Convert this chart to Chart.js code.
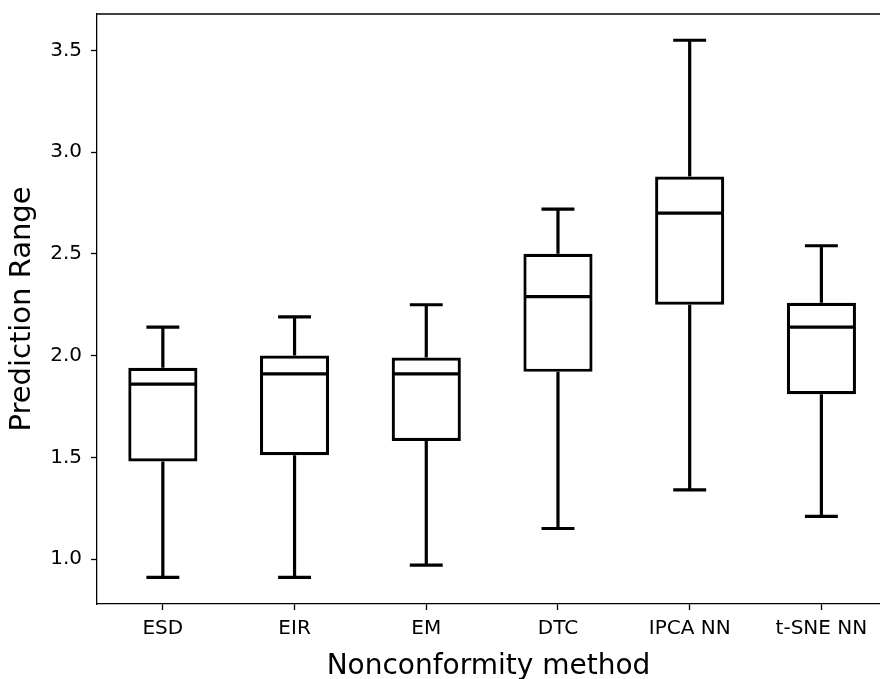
<!DOCTYPE html>
<html lang="en">
<head>
  <meta charset="UTF-8" />
  <title>Prediction Range by Nonconformity method</title>
  <script src="https://cdn.jsdelivr.net/npm/chart.js@4"></script>
  <style>
    body {
      margin: 0;
      background: #fff;
    }
    #wrap {
      width: 880px;
      height: 679px;
      position: relative;
    }
  </style>
</head>
<body>
  <div id="wrap"><canvas id="chart"></canvas></div>

  <script>
    // box plot data
    const categories = ['ESD', 'EIR', 'EM', 'DTC', 'IPCA NN', 't-SNE NN'];
    const whiskerLow = [0.91, 0.91, 0.97, 1.15, 1.34, 1.21];
    const q1 = [1.48, 1.51, 1.58, 1.92, 2.25, 1.81];
    const median = [1.86, 1.91, 1.91, 2.29, 2.70, 2.14];
    const q3 = [1.94, 2.00, 1.99, 2.50, 2.88, 2.26];
    const whiskerHigh = [2.14, 2.19, 2.25, 2.72, 3.55, 2.54];
    const yTicks = [1.0, 1.5, 2.0, 2.5, 3.0, 3.5];

    const FONT = 'DejaVu Sans';
    const LW = 3.2;

    // whiskers, caps, medians and the top spine
    const boxPlugin = {
      id: 'boxExtras',
      afterDatasetsDraw(chart) {
        const { ctx, chartArea } = chart;
        const x = chart.scales.x;
        const y = chart.scales.y;
        const boxHalf = x.getPixelForValue(1.25) - x.getPixelForValue(1);
        const capHalf = x.getPixelForValue(1.125) - x.getPixelForValue(1);

        ctx.save();
        ctx.beginPath();
        ctx.rect(chartArea.left, chartArea.top, chartArea.right - chartArea.left, chartArea.bottom - chartArea.top);
        ctx.clip();
        ctx.strokeStyle = '#000';
        ctx.lineWidth = LW;
        ctx.lineCap = 'butt';

        categories.forEach((c, i) => {
          const px = x.getPixelForValue(i + 1);
          const yLo = y.getPixelForValue(whiskerLow[i]);
          const yQ1 = y.getPixelForValue(q1[i]);
          const yMed = y.getPixelForValue(median[i]);
          const yQ3 = y.getPixelForValue(q3[i]);
          const yHi = y.getPixelForValue(whiskerHigh[i]);

          ctx.beginPath();
          // whiskers
          ctx.moveTo(px, yLo); ctx.lineTo(px, yQ1);
          ctx.moveTo(px, yQ3); ctx.lineTo(px, yHi);
          // caps
          ctx.moveTo(px - capHalf, yLo); ctx.lineTo(px + capHalf, yLo);
          ctx.moveTo(px - capHalf, yHi); ctx.lineTo(px + capHalf, yHi);
          // median
          ctx.moveTo(px - boxHalf, yMed); ctx.lineTo(px + boxHalf, yMed);
          ctx.stroke();
        });
        ctx.restore();

        // top spine
        ctx.save();
        ctx.strokeStyle = '#000';
        ctx.lineWidth = 1.3;
        ctx.beginPath();
        ctx.moveTo(chartArea.left - 0.65, chartArea.top);
        ctx.lineTo(chartArea.right, chartArea.top);
        ctx.stroke();
        ctx.restore();
      }
    };

    new Chart(document.getElementById('chart'), {
      type: 'bar',
      data: {
        datasets: [{
          data: categories.map((c, i) => ({ x: i + 1, y: [q1[i], q3[i]] })),
          backgroundColor: '#fff',
          borderColor: '#000',
          borderWidth: LW,
          borderSkipped: false,
          barPercentage: 0.525,
          categoryPercentage: 1.0
        }]
      },
      options: {
        responsive: true,
        maintainAspectRatio: false,
        animation: false,
        layout: { padding: { top: 14, right: 0, bottom: 0, left: 0 } },
        plugins: {
          legend: { display: false },
          tooltip: { enabled: false }
        },
        scales: {
          x: {
            type: 'linear',
            offset: false,
            min: 0.5,
            max: 6.445,
            afterBuildTicks: axis => {
              axis.ticks = categories.map((c, i) => ({ value: i + 1 }));
            },
            afterFit: scale => {
              scale.height = 75;
              scale.paddingLeft = 0;
              scale.paddingRight = 0;
            },
            ticks: {
              color: '#000',
              font: { family: FONT, size: 20 },
              padding: 7,
              maxRotation: 0,
              autoSkip: false,
              callback: v => categories[Math.round(v) - 1] ?? ''
            },
            grid: { offset: false, drawOnChartArea: false, drawTicks: true, tickLength: 6, color: '#000', tickWidth: 1.3 },
            border: { display: true, color: '#000', width: 1.3 },
            title: {
              display: true,
              text: 'Nonconformity method',
              color: '#000',
              font: { family: FONT, size: 28, lineHeight: 0.9 },
              padding: { top: 0, bottom: 0 }
            }
          },
          y: {
            min: 0.779,
            max: 3.679,
            afterBuildTicks: axis => {
              axis.ticks = yTicks.map(v => ({ value: v }));
            },
            afterFit: scale => {
              scale.width = 97;
              scale.paddingTop = 0;
              scale.paddingBottom = 0;
            },
            ticks: {
              color: '#000',
              font: { family: FONT, size: 20 },
              padding: 9,
              callback: v => v.toFixed(1)
            },
            grid: { drawOnChartArea: false, drawTicks: true, tickLength: 6, color: '#000', tickWidth: 1.3 },
            border: { display: true, color: '#000', width: 1.3 },
            title: {
              display: true,
              text: 'Prediction Range',
              color: '#000',
              font: { family: FONT, size: 29, lineHeight: 1.2 },
              padding: { top: 5, bottom: 0 }
            }
          }
        }
      },
      plugins: [boxPlugin]
    });
  </script>
</body>
</html>
